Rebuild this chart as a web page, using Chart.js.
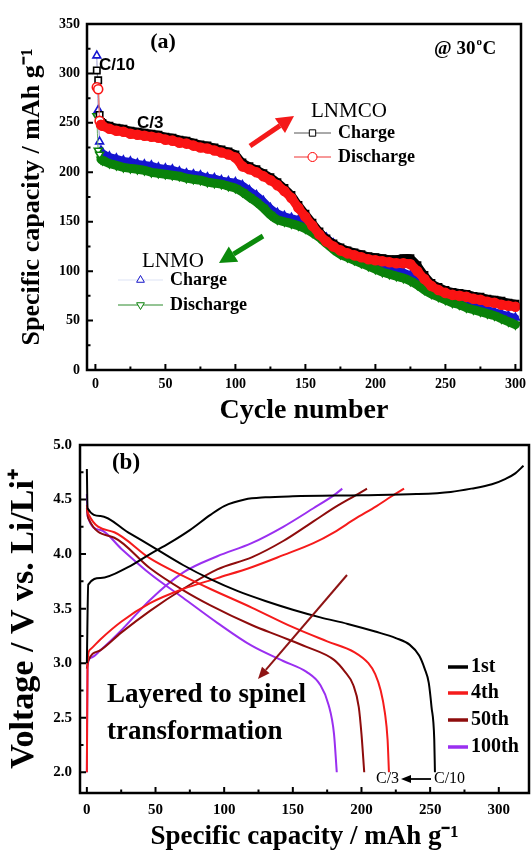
<!DOCTYPE html>
<html>
<head>
<meta charset="utf-8">
<script src="https://cdn.jsdelivr.net/npm/chart.js@4.4.1/dist/chart.umd.min.js"></script>
<style>
  html, body { margin: 0; padding: 0; background: #fff; }
  #wrap { position: relative; width: 532px; height: 853px; }
  #top { position: absolute; left: 0; top: 0; }
  #bottom { position: absolute; left: 0; top: 428px; }
</style>
</head>
<body>
<div id="wrap">
  <canvas id="top" width="532" height="428"></canvas>
  <canvas id="bottom" width="532" height="425"></canvas>
</div>
<script>
// ---- panel (a): capacity vs cycle number ----
const cycles = [1, 2, 3, 4, 5, 10, 15, 20, 25, 30, 35, 40, 45, 50, 55, 60, 65, 70, 75, 80, 85, 90, 95, 100,
  105, 110, 115, 120, 125, 130, 135, 140, 145, 150, 155, 160, 165, 170, 175, 180, 185, 190, 195, 200,
  205, 210, 215, 220, 225, 230, 235, 240, 245, 250, 255, 260, 265, 270, 275, 280, 285, 290, 295, 300];

const lnmcoCharge = [303, 293, 258, 251, 250, 247, 245, 244, 242, 241, 240, 239, 238, 236, 235, 233, 232, 230, 228, 227, 225, 223, 221, 218,
  210, 206, 203, 199, 195, 190, 184, 177, 167, 158, 149, 140, 133, 128, 124, 121, 119, 117, 115, 114,
  113, 112, 112, 113, 113, 106, 96, 88, 84, 81, 79, 78, 77, 75, 74, 72, 71, 70, 68, 67];

const lnmcoDischarge = [286, 284, 252, 248, 247, 244, 242, 241, 239, 238, 237, 236, 235, 233, 232, 230, 229, 227, 225, 224, 222, 220, 218, 215,
  206, 203, 200, 196, 192, 187, 181, 174, 164, 155, 146, 137, 130, 125, 121, 118, 116, 114, 112, 111,
  110, 109, 108, 108, 107, 100, 92, 85, 81, 78, 76, 75, 74, 72, 71, 69, 68, 66, 65, 64];

const lnmoCharge = [318, 263, 231, 222, 220, 216, 214, 212, 211, 209, 208, 207, 205, 204, 203, 201, 199, 198, 197, 195, 194, 192, 191, 190,
  187, 182, 177, 171, 164, 159, 156, 154, 152, 149, 145, 140, 134, 128, 122, 119, 117, 114, 111, 108,
  105, 103, 101, 99, 96, 91, 86, 81, 78, 75, 72, 70, 67, 65, 63, 61, 59, 57, 55, 53];

const lnmoDischarge = [257, 222, 218, 213, 212, 209, 207, 205, 204, 203, 202, 200, 199, 198, 197, 196, 194, 193, 192, 190, 189, 188, 186, 184,
  180, 175, 170, 164, 157, 152, 150, 148, 146, 143, 139, 134, 128, 122, 117, 114, 111, 108, 105, 102,
  99, 97, 95, 93, 90, 86, 81, 77, 74, 71, 68, 66, 63, 61, 59, 57, 55, 52, 49, 46];

// ---- panel (b): voltage profiles, [capacity, voltage] ----
const firstCharge = [[0, 3.0], [1, 3.72], [10, 3.78], [30, 3.88], [46, 4.0], [60, 4.1], [75, 4.22], [90, 4.36], [100, 4.44],
  [115, 4.5], [130, 4.52], [150, 4.53], [200, 4.54], [240, 4.55], [265, 4.57], [280, 4.6], [295, 4.64], [305, 4.69], [312, 4.74], [318, 4.81]];
const firstDischarge = [[0, 4.78], [0.5, 4.42], [10, 4.35], [30, 4.2], [50, 4.05], [70, 3.9], [90, 3.77], [110, 3.66], [130, 3.57],
  [150, 3.49], [170, 3.42], [190, 3.36], [210, 3.29], [225, 3.23], [235, 3.17], [242, 3.07], [246, 2.95], [249, 2.82], [251, 2.6], [253, 2.3], [253.5, 2.0]];
const fourthCharge = [[0, 2.0], [0.5, 3.0], [2, 3.12], [10, 3.22], [25, 3.38], [46, 3.55], [70, 3.68], [95, 3.78], [120, 3.88],
  [143, 3.99], [165, 4.1], [180, 4.2], [195, 4.32], [211, 4.44], [222, 4.53], [231, 4.6]];
const fourthDischarge = [[0, 4.45], [1, 4.37], [20, 4.2], [46, 3.96], [70, 3.8], [90, 3.68], [120, 3.51], [150, 3.33], [175, 3.2],
  [195, 3.1], [205, 3.0], [210, 2.9], [214, 2.75], [217, 2.55], [219, 2.3], [220, 2.0]];
const fiftiethCharge = [[0, 2.95], [1, 3.02], [10, 3.12], [25, 3.28], [46, 3.48], [70, 3.68], [95, 3.86], [120, 3.97], [143, 4.12],
  [165, 4.3], [182, 4.44], [196, 4.54], [204, 4.6]];
const fiftiethDischarge = [[0, 4.42], [1, 4.33], [20, 4.15], [46, 3.87], [70, 3.67], [90, 3.53], [120, 3.35], [140, 3.25], [160, 3.15],
  [180, 3.03], [188, 2.92], [194, 2.8], [198, 2.6], [200, 2.35], [202, 2.0]];
const hundredthCharge = [[0, 2.0], [0.5, 2.98], [3, 3.05], [10, 3.12], [25, 3.3], [46, 3.58], [70, 3.83], [95, 3.98], [120, 4.1],
  [143, 4.25], [165, 4.42], [180, 4.54], [186, 4.6]];
const hundredthDischarge = [[0, 4.55], [0.5, 4.35], [10, 4.22], [25, 4.05], [46, 3.82], [70, 3.6], [95, 3.37], [120, 3.16], [143, 3.02],
  [160, 2.92], [170, 2.8], [176, 2.62], [180, 2.35], [182, 2.0]];

const cycleLabels = ['1st', '4th', '50th', '100th'];
const cycleColors = ['#000000', '#f51b1b', '#8e0c0c', '#9a2ff0'];

const SERIF = "'Liberation Serif', 'Times New Roman', serif";
const SANS = "'Liberation Sans', Arial, sans-serif";

// box around plot + inward major/minor ticks on bottom and left
const frameAndTicks = {
  id: 'frameAndTicks',
  afterDraw(chart) {
    const { ctx, chartArea: a, scales: { x, y } } = chart;
    ctx.save();
    ctx.strokeStyle = '#000';
    ctx.lineWidth = 2;
    const minors = (scale) => {
      const t = scale.ticks.map(k => k.value);
      const step = t[1] - t[0];
      const out = [];
      for (let v = t[0] - step / 2; v <= scale.max; v += step) {
        if (v >= scale.min) out.push(v);
      }
      return out;
    };
    ctx.beginPath();
    x.ticks.forEach(k => { const p = x.getPixelForValue(k.value); ctx.moveTo(p, a.bottom); ctx.lineTo(p, a.bottom - 6); });
    minors(x).forEach(v => { const p = x.getPixelForValue(v); ctx.moveTo(p, a.bottom); ctx.lineTo(p, a.bottom - 3.5); });
    y.ticks.forEach(k => { const p = y.getPixelForValue(k.value); ctx.moveTo(a.left, p); ctx.lineTo(a.left + 6, p); });
    minors(y).forEach(v => { const p = y.getPixelForValue(v); ctx.moveTo(a.left, p); ctx.lineTo(a.left + 3.5, p); });
    ctx.stroke();
    ctx.lineWidth = 2.5;
    ctx.strokeRect(a.left, a.top, a.right - a.left, a.bottom - a.top);
    ctx.restore();
  }
};

function arrow(ctx, x1, y1, x2, y2, color, w, head, half) {
  const ang = Math.atan2(y2 - y1, x2 - x1);
  const bx = x2 - head * Math.cos(ang), by = y2 - head * Math.sin(ang);
  ctx.save();
  ctx.strokeStyle = color; ctx.fillStyle = color; ctx.lineWidth = w;
  ctx.beginPath(); ctx.moveTo(x1, y1); ctx.lineTo(bx, by); ctx.stroke();
  ctx.beginPath(); ctx.moveTo(x2, y2);
  ctx.lineTo(bx + half * Math.sin(ang), by - half * Math.cos(ang));
  ctx.lineTo(bx - half * Math.sin(ang), by + half * Math.cos(ang));
  ctx.closePath(); ctx.fill();
  ctx.restore();
}

function legendRow(ctx, x1, x2, y, lineColor, markColor, style, rot, label, font) {
  ctx.save();
  ctx.strokeStyle = lineColor; ctx.lineWidth = 1;
  ctx.beginPath(); ctx.moveTo(x1, y); ctx.lineTo(x2, y); ctx.stroke();
  ctx.strokeStyle = markColor; ctx.fillStyle = '#fff';
  Chart.helpers.drawPoint(ctx, { pointStyle: style, radius: 4.5, borderWidth: 1.6, rotation: rot }, (x1 + x2) / 2, y);
  ctx.fillStyle = '#000'; ctx.font = font; ctx.textBaseline = 'middle'; ctx.textAlign = 'left';
  ctx.fillText(label, x2 + 7, y);
  ctx.restore();
}

const topNotes = {
  id: 'topNotes',
  afterDraw(chart) {
    const ctx = chart.ctx;
    ctx.save();
    ctx.fillStyle = '#000';
    ctx.textBaseline = 'middle';
    ctx.textAlign = 'center';
    ctx.font = 'bold 22px ' + SERIF;
    ctx.fillText('(a)', 163, 42);
    ctx.textAlign = 'left';
    ctx.textBaseline = 'alphabetic';
    ctx.font = 'bold 19px ' + SERIF;
    ctx.fillText('@ 30', 434, 54);
    let w = ctx.measureText('@ 30').width;
    ctx.font = 'bold 11px ' + SERIF;
    ctx.fillText('o', 434 + w + 1, 45);
    ctx.font = 'bold 19px ' + SERIF;
    ctx.fillText('C', 434 + w + 7, 54);
    ctx.textBaseline = 'middle';
    ctx.font = 'bold 17px ' + SANS;
    ctx.fillText('C/10', 99, 65);
    ctx.fillText('C/3', 137, 123);
    ctx.font = '21px ' + SERIF;
    ctx.fillText('LNMCO', 311, 111);
    ctx.fillText('LNMO', 142, 261);
    ctx.restore();
    legendRow(ctx, 294, 331, 133, '#555', '#000', 'rect', 0, 'Charge', 'bold 18px ' + SERIF);
    legendRow(ctx, 294, 331, 157, '#e33', '#f00', 'circle', 0, 'Discharge', 'bold 18px ' + SERIF);
    legendRow(ctx, 118, 163, 280, '#dde3f5', '#1515c8', 'triangle', 0, 'Charge', 'bold 18px ' + SERIF);
    legendRow(ctx, 118, 163, 305, '#2a8a2a', '#0a820a', 'triangle', 180, 'Discharge', 'bold 18px ' + SERIF);
    arrow(ctx, 250, 146, 294, 116, '#f41a1a', 5, 17, 9);
    arrow(ctx, 263, 236, 219, 263, '#0b8a0b', 5, 17, 9);
  }
};

const bottomNotes = {
  id: 'bottomNotes',
  afterDraw(chart) {
    const ctx = chart.ctx;
    ctx.save();
    ctx.fillStyle = '#000';
    ctx.textBaseline = 'middle';
    ctx.textAlign = 'center';
    ctx.font = 'bold 23px ' + SERIF;
    ctx.fillText('(b)', 126, 35);
    ctx.textAlign = 'left';
    ctx.font = 'bold 27px ' + SERIF;
    ctx.fillText('Layered to spinel', 107, 267);
    ctx.fillText('transformation', 107, 304);
    const rows = [239, 265, 292, 319];
    ctx.font = 'bold 20px ' + SERIF;
    cycleLabels.forEach((lab, i) => {
      ctx.strokeStyle = cycleColors[i]; ctx.lineWidth = 3.5;
      ctx.beginPath(); ctx.moveTo(448, rows[i]); ctx.lineTo(468, rows[i]); ctx.stroke();
      ctx.fillText(lab, 471, rows[i]);
    });
    ctx.font = '16px ' + SERIF;
    ctx.fillText('C/3', 376, 351);
    ctx.fillText('C/10', 434, 351);
    ctx.restore();
    arrow(ctx, 431, 351, 401, 351, '#000', 1.8, 10, 4);
    arrow(ctx, 347, 147, 258, 251, '#8e1414', 2, 12, 5);
  }
};

const tickFont = (s) => ({ family: SERIF, weight: 'bold', size: s });
const titleFont = (s) => ({ family: SERIF, weight: 'bold', size: s, lineHeight: 1 });

function series(vals, color, order, style, rot, thin, bw) {
  return {
    data: cycles.map((c, i) => ({ x: c, y: vals[i] })),
    order: order,
    borderColor: color,
    borderWidth: bw,
    borderJoinStyle: 'round',
    borderCapStyle: 'round',
    tension: 0.2,
    pointStyle: style,
    pointRotation: rot,
    pointRadius: 4.5,
    pointBorderWidth: 1.6,
    pointBorderColor: color,
    pointBackgroundColor: (c) => (c.raw && c.raw.x < 4) ? '#fff' : color,
    segment: {
      borderWidth: (s) => s.p0.parsed.x < 4 ? 1 : bw,
      borderColor: (s) => s.p0.parsed.x < 4 ? thin : color
    }
  };
}

new Chart(document.getElementById('top'), {
  type: 'line',
  data: {
    datasets: [
      series(lnmcoDischarge, '#fa1414', 0, 'circle', 0, '#f66', 9),
      series(lnmcoCharge, '#000000', 1, 'rect', 0, '#888', 8),
      series(lnmoDischarge, '#0a820a', 2, 'triangle', 180, '#6a6', 9),
      series(lnmoCharge, '#1515d0', 3, 'triangle', 0, '#99c', 7)
    ]
  },
  options: {
    responsive: false,
    animation: false,
    layout: { padding: { top: 24, right: 8, left: 0, bottom: 0 } },
    plugins: { legend: { display: false }, tooltip: { enabled: false } },
    scales: {
      x: {
        type: 'linear', min: -6, max: 304,
        grid: { display: false, drawTicks: false }, border: { display: false },
        ticks: { stepSize: 50, includeBounds: false, color: '#000', font: tickFont(14), padding: 6, maxRotation: 0 },
        title: { display: true, text: 'Cycle number', color: '#000', font: titleFont(28), padding: { top: 0, bottom: 3 } },
        afterFit: (s) => { s.height = 58; }
      },
      y: {
        type: 'linear', min: 0, max: 350,
        grid: { display: false, drawTicks: false }, border: { display: false },
        ticks: { stepSize: 50, includeBounds: false, color: '#000', font: tickFont(14), padding: 7 },
        title: { display: true, text: 'Specific capacity / mAh g⁻¹', color: '#000', font: titleFont(26), padding: { top: 19, bottom: 0 } },
        afterFit: (s) => { s.width = 87; }
      }
    }
  },
  plugins: [frameAndTicks, topNotes]
});

const curves = [
  [firstCharge, 0], [firstDischarge, 0],
  [fourthCharge, 1], [fourthDischarge, 1],
  [fiftiethCharge, 2], [fiftiethDischarge, 2],
  [hundredthCharge, 3], [hundredthDischarge, 3]
];

new Chart(document.getElementById('bottom'), {
  type: 'line',
  data: {
    datasets: curves.map(([pts, k]) => ({
      label: cycleLabels[k],
      data: pts.map(p => ({ x: p[0], y: p[1] })),
      borderColor: cycleColors[k],
      borderWidth: 2,
      pointRadius: 0,
      cubicInterpolationMode: 'monotone'
    }))
  },
  options: {
    responsive: false,
    animation: false,
    layout: { padding: { top: 8, right: 3, left: 0, bottom: 0 } },
    plugins: { legend: { display: false }, tooltip: { enabled: false } },
    scales: {
      x: {
        type: 'linear', min: -5, max: 322,
        grid: { display: false, drawTicks: false }, border: { display: false },
        ticks: { stepSize: 50, includeBounds: false, color: '#000', font: tickFont(15), padding: 8, maxRotation: 0 },
        title: { display: true, text: 'Specific capacity / mAh g⁻¹', color: '#000', font: titleFont(27), padding: { top: 0, bottom: 2 } },
        afterFit: (s) => { s.height = 60; }
      },
      y: {
        type: 'linear', min: 1.81, max: 5.0,
        grid: { display: false, drawTicks: false }, border: { display: false },
        ticks: { stepSize: 0.5, includeBounds: false, color: '#000', font: tickFont(15), padding: 8, callback: (v) => v.toFixed(1) },
        title: { display: true, text: 'Voltage / V vs. Li/Li⁺', color: '#000', font: titleFont(34), padding: { top: 7, bottom: 0 } },
        afterFit: (s) => { s.width = 80; }
      }
    }
  },
  plugins: [frameAndTicks, bottomNotes]
});
</script>
</body>
</html>
